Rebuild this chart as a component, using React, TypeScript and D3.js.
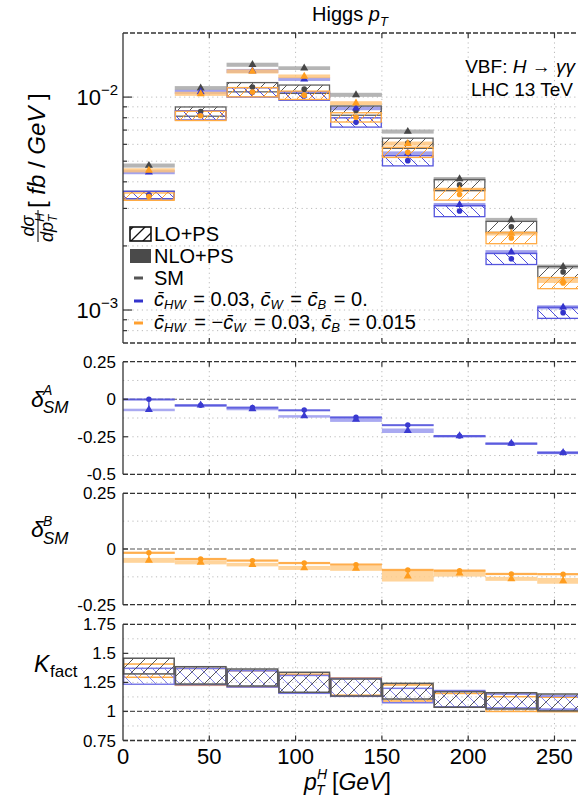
import React from 'react';
import * as d3 from 'd3';

const binEdges = [0, 30, 60, 90, 120, 150, 180, 210, 240, 270];

// d sigma / d pT [fb/GeV]
const smLO = [0.00347, 0.00856, 0.01114, 0.0109, 0.00865, 0.00608, 0.00387, 0.00246, 0.00151];
const smNLO = [0.00477, 0.01102, 0.01419, 0.01368, 0.01025, 0.00689, 0.00413, 0.00265, 0.0016];
const hwLO = [0.00347, 0.00822, 0.01053, 0.01012, 0.00761, 0.00503, 0.00292, 0.00174, 0.000972];
const hwNLO = [0.00444, 0.01058, 0.01327, 0.01215, 0.00887, 0.00544, 0.00312, 0.00187, 0.00103];
const mixLO = [0.00341, 0.00817, 0.01056, 0.01021, 0.00804, 0.00551, 0.00349, 0.00218, 0.00134];
const mixNLO = [0.00453, 0.01036, 0.0132, 0.01252, 0.00936, 0.00605, 0.00368, 0.00229, 0.00137];
const loErr = [0.04, 0.05, 0.05, 0.045, 0.05, 0.055, 0.06, 0.06, 0.06];
const nloErr = [0.022, 0.022, 0.022, 0.02, 0.022, 0.022, 0.02, 0.022, 0.022];

// delta_SM panels
const dAlo = [0, -0.04, -0.055, -0.072, -0.12, -0.172, -0.245, -0.294, -0.356];
const dAnlo = [-0.07, -0.04, -0.065, -0.112, -0.135, -0.21, -0.245, -0.294, -0.356];
const dAloErr = [0.005, 0.005, 0.006, 0.005, 0.006, 0.006, 0.006, 0.005, 0.006];
const dAnloErr = [0.007, 0.008, 0.008, 0.006, 0.016, 0.015, 0.007, 0.006, 0.01];
const dBlo = [-0.017, -0.045, -0.052, -0.063, -0.07, -0.094, -0.097, -0.112, -0.113];
const dBnlo = [-0.051, -0.06, -0.07, -0.085, -0.087, -0.122, -0.109, -0.134, -0.143];
const dBloErr = [0.005, 0.005, 0.005, 0.005, 0.005, 0.005, 0.005, 0.005, 0.005];
const dBnloErr = [0.011, 0.009, 0.008, 0.009, 0.011, 0.024, 0.015, 0.009, 0.013];

// K factor bands
const kSmLo = [1.323, 1.236, 1.219, 1.165, 1.133, 1.107, 1.036, 1.021, 1.005];
const kSmHi = [1.458, 1.385, 1.365, 1.337, 1.279, 1.242, 1.17, 1.161, 1.15];
const kHwLo = [1.234, 1.23, 1.21, 1.156, 1.13, 1.075, 1.04, 1.03, 1.02];
const kHwHi = [1.371, 1.37, 1.35, 1.31, 1.285, 1.199, 1.18, 1.15, 1.133];
const kMixLo = [1.294, 1.225, 1.21, 1.16, 1.14, 1.09, 1.036, 1.0, 0.998];
const kMixHi = [1.408, 1.37, 1.35, 1.32, 1.29, 1.228, 1.155, 1.127, 1.122];

const xTicks = [0, 50, 100, 150, 200, 250];
const mainGrid = [8e-4, 9e-4, 1e-3, 2e-3, 3e-3, 4e-3, 5e-3, 6e-3, 7e-3, 8e-3, 9e-3, 1e-2];
const mainMajor = [1e-3, 1e-2];
const aTicks = [0.25, 0, -0.25, -0.5];
const aGrid = [0.125, -0.125, -0.25, -0.375];
const bTicks = [0.25, 0, -0.25];
const bGrid = [0.125, -0.125];
const kTicks = [1.75, 1.5, 1.25, 1, 0.75];
const kGrid = [1.625, 1.5, 1.375, 1.25, 1.125, 0.875];

const FONT = "'Liberation Sans', Arial, Helvetica, sans-serif";
const L = 123, R = 589;
const x = d3.scaleLinear().domain([0, 270]).range([L, R]);
const yMain = d3.scaleLog().domain([7e-4, 2e-2]).range([343, 33]);
const yA = d3.scaleLinear().domain([-0.5, 0.25]).range([474.3, 361.7]);
const yB = d3.scaleLinear().domain([-0.25, 0.25]).range([604.7, 493.3]);
const yK = d3.scaleLinear().domain([0.75, 1.75]).range([740.5, 624.3]);

const bins = binEdges.slice(0, -1).map((e, i) => ({ i, x0: x(e), x1: x(binEdges[i + 1]), xc: x((e + binEdges[i + 1]) / 2) }));
const tri = d3.symbol(d3.symbolTriangle).size(28)();

const sm = { lo: smLO, nlo: smNLO, kLo: kSmLo, kHi: kSmHi, line: '#606060', band: '#a3a3a3', hatch: 'url(#hSM)', kHatch: 'url(#hSM)', kLine: '#5a5a5a', mark: '#474747' };
const hw = { lo: hwLO, nlo: hwNLO, kLo: kHwLo, kHi: kHwHi, line: '#5555dd', band: '#8c8ce8', hatch: 'url(#hHW)', kHatch: 'url(#hHWk)', kLine: '#7a7ae6', mark: '#3333cc' };
const mix = { lo: mixLO, nlo: mixNLO, kLo: kMixLo, kHi: kMixHi, line: '#ffab45', band: '#ffc276', hatch: 'url(#hMIX)', kHatch: 'url(#hMIX)', kLine: '#ffab45', mark: '#ff9d1f' };
const series = [sm, hw, mix];
const kOrder = [mix, hw, sm];

const Frame = ({ y, grid, zero }: { y: any; grid: number[]; zero?: number }) => {
  const [b, t] = y.range();
  return (
    <g>
      {xTicks.slice(1).map(v => (
        <line key={'v' + v} x1={x(v)} x2={x(v)} y1={t} y2={b} stroke="#bbb" strokeDasharray="1.2,3.5" />
      ))}
      {grid.map(v => (
        <line key={'h' + v} x1={L} x2={R} y1={y(v)} y2={y(v)} stroke="#bbb" strokeDasharray="1.2,3.5" />
      ))}
      {zero !== undefined && (
        <line x1={L} x2={R} y1={y(zero)} y2={y(zero)} stroke="#555" strokeWidth={1.2} strokeDasharray="5,2" />
      )}
    </g>
  );
};

const Border = ({ y, ticks }: { y: any; ticks: number[] }) => {
  const [b, t] = y.range();
  return (
    <g>
      <line x1={L} x2={R} y1={t} y2={t} stroke="#333" strokeWidth={1.3} strokeDasharray="5,2" />
      <line x1={L} x2={R} y1={b} y2={b} stroke="#333" strokeWidth={1.3} strokeDasharray="5,2" />
      <line x1={L} x2={L} y1={t} y2={b} stroke="#333" strokeWidth={1.3} />
      {xTicks.slice(1).map(v => (
        <g key={v}>
          <line x1={x(v)} x2={x(v)} y1={t} y2={t + 5} stroke="#333" strokeWidth={1.2} />
          <line x1={x(v)} x2={x(v)} y1={b} y2={b - 5} stroke="#333" strokeWidth={1.2} />
        </g>
      ))}
      {ticks.map(v => (
        <line key={'t' + v} x1={L} x2={L + 5} y1={y(v)} y2={y(v)} stroke="#333" strokeWidth={1.2} />
      ))}
    </g>
  );
};

const RatioMarks = ({ y, lo, nlo, loE, nloE, cLo, cNlo, mark }: any) => (
  <g>
    {bins.map(({ i, x0, x1, xc }) => {
      const n0 = y(nlo[i] + nloE[i]), n1 = y(nlo[i] - nloE[i]);
      const l0 = y(lo[i] + loE[i]), l1 = y(lo[i] - loE[i]);
      return (
        <g key={i}>
          <rect x={x0} width={x1 - x0} y={n0} height={Math.max(n1 - n0, 2.5)} fill={cNlo} opacity={0.85} />
          <rect x={x0} width={x1 - x0} y={l0} height={Math.max(l1 - l0, 2)} fill={cLo} opacity={0.9} />
          <line x1={xc} x2={xc} y1={y(lo[i])} y2={y(nlo[i])} stroke={mark} strokeWidth={1.2} />
          <circle cx={xc} cy={y(lo[i])} r={2.7} fill={mark} />
          <path d={tri} transform={`translate(${xc},${y(nlo[i])})`} fill={mark} />
        </g>
      );
    })}
  </g>
);

const hatchPat = (id: string, color: string, back: boolean, w = 1) => (
  <pattern id={id} patternUnits="userSpaceOnUse" width={12} height={12}>
    <path
      d={back ? 'M0,0 L12,12 M-3,9 L3,15 M9,-3 L15,3' : 'M0,12 L12,0 M-3,3 L3,-3 M9,15 L15,9'}
      stroke={color}
      strokeWidth={w}
    />
  </pattern>
);

const Cbar = ({ sub }: { sub: string }) => (
  <>
    <tspan fontStyle="italic">c̄</tspan>
    <tspan fontStyle="italic" fontSize={13} dy={3}>{sub}</tspan>
  </>
);

export default function App() {
  return (
    <svg width={578} height={797} style={{ position: 'absolute', left: 0, top: 0, background: '#fff' }} fontFamily={FONT}>
      <defs>
        {hatchPat('hSM', '#555', false)}
        {hatchPat('hHW', '#5050dd', true)}
        {hatchPat('hHWk', '#7c7ce4', true, 0.9)}
        {hatchPat('hMIX', '#ffa030', false)}
        {hatchPat('hLeg', '#111', false, 1.3)}
      </defs>

      {/* title */}
      <text x={350} y={21} fontSize={20} textAnchor="middle">
        Higgs <tspan fontStyle="italic">p</tspan>
        <tspan fontStyle="italic" fontSize={13} dy={5}>T</tspan>
      </text>

      {/* main panel */}
      <Frame y={yMain} grid={mainGrid} />
      {series.map((s, k) => (
        <g key={'n' + k}>
          {bins.map(({ i, x0, x1 }) => {
            const t = yMain(s.nlo[i] * (1 + nloErr[i]));
            const b = yMain(s.nlo[i] * (1 - nloErr[i]));
            return <rect key={i} x={x0} width={x1 - x0} y={t} height={b - t} fill={s.band} opacity={0.8} />;
          })}
        </g>
      ))}
      {series.map((s, k) => (
        <g key={'l' + k}>
          {bins.map(({ i, x0, x1 }) => {
            const t = yMain(s.lo[i] * (1 + loErr[i]));
            const b = yMain(s.lo[i] * (1 - loErr[i]));
            return (
              <rect key={i} x={x0 + 0.6} width={x1 - x0 - 1.2} y={t} height={b - t} fill={s.hatch} stroke={s.line} strokeWidth={1.3} />
            );
          })}
        </g>
      ))}
      {series.map((s, k) => (
        <g key={'m' + k}>
          {bins.map(({ i, xc }) => (
            <g key={i}>
              <circle cx={xc} cy={yMain(s.lo[i])} r={2.8} fill={s.mark} />
              <path d={tri} transform={`translate(${xc},${yMain(s.nlo[i])})`} fill={s.mark} />
            </g>
          ))}
        </g>
      ))}
      <Border y={yMain} ticks={[]} />
      {mainGrid.map(v => (
        <line key={v} x1={L} x2={L + (mainMajor.includes(v) ? 9 : 4)} y1={yMain(v)} y2={yMain(v)} stroke="#333" strokeWidth={1.2} />
      ))}
      {mainMajor.map(v => (
        <text key={v} x={118} y={yMain(v) + 8} fontSize={22} textAnchor="end">
          10<tspan fontSize={15} dy={-10}>{'\u2212' + Math.round(-Math.log10(v))}</tspan>
        </text>
      ))}
      <text x={575} y={73} fontSize={19} textAnchor="end">
        VBF: <tspan fontStyle="italic">H</tspan> {'\u2192'} <tspan fontStyle="italic">γγ</tspan>
      </text>
      <text x={573} y={96} fontSize={19} textAnchor="end">LHC 13 TeV</text>

      {/* y label */}
      <g transform="translate(45,0) rotate(-90)" fontStyle="italic">
        <text x={-226} y={-11} fontSize={18} textAnchor="middle">dσ</text>
        <line x1={-242} x2={-210} y1={-7} y2={-7} stroke="#000" strokeWidth={1} />
        <text x={-242} y={8} fontSize={18}>
          dp<tspan fontSize={12} dy={4}>T</tspan><tspan fontSize={12} dx={-7} dy={-13}>H</tspan>
        </text>
        <text x={-208} y={0} fontSize={24}>
          <tspan fontStyle="normal">[</tspan> fb <tspan fontStyle="normal">/</tspan> GeV <tspan fontStyle="normal">]</tspan>
        </text>
      </g>

      {/* legend */}
      <rect x={130} y={227} width={21} height={14} fill="url(#hLeg)" stroke="#111" strokeWidth={1.6} />
      <text x={154} y={241} fontSize={20}>LO+PS</text>
      <rect x={130} y={249} width={21} height={14} fill="#4a4a4a" />
      <text x={154} y={263} fontSize={20}>NLO+PS</text>
      <line x1={134} x2={143} y1={278} y2={278} stroke="#555" strokeWidth={3} />
      <text x={154} y={285} fontSize={20}>SM</text>
      <line x1={134} x2={143} y1={301} y2={301} stroke="#3333cc" strokeWidth={3} />
      <text x={154} y={306} fontSize={20}>
        <Cbar sub="HW" />
        <tspan dy={-3} dx={2}> = 0.03, </tspan>
        <Cbar sub="W" />
        <tspan dy={-3} dx={2}> = </tspan>
        <Cbar sub="B" />
        <tspan dy={-3} dx={2}> = 0.</tspan>
      </text>
      <line x1={134} x2={143} y1={323} y2={323} stroke="#ffa030" strokeWidth={3} />
      <text x={154} y={329} fontSize={20}>
        <Cbar sub="HW" />
        <tspan dy={-3} dx={3}> = {'\u2212'}</tspan>
        <Cbar sub="W" />
        <tspan dy={-3} dx={3}> = 0.03, </tspan>
        <Cbar sub="B" />
        <tspan dy={-3} dx={3}> = 0.015</tspan>
      </text>

      {/* delta A */}
      <Frame y={yA} grid={aGrid} zero={0} />
      <RatioMarks y={yA} lo={dAlo} nlo={dAnlo} loE={dAloErr} nloE={dAnloErr} cLo="#5252dc" cNlo="#9a9aee" mark="#3a3ad0" />
      <Border y={yA} ticks={aTicks} />
      {aTicks.map(v => (
        <text key={v} x={116} y={yA(v) + 6} fontSize={17} textAnchor="end">{String(v)}</text>
      ))}
      <text x={31} y={407} fontSize={23} fontStyle="italic">δ</text>
      <text x={43} y={395} fontSize={14} fontStyle="italic">A</text>
      <text x={43} y={413} fontSize={17} fontStyle="italic">SM</text>

      {/* delta B */}
      <Frame y={yB} grid={bGrid} zero={0} />
      <RatioMarks y={yB} lo={dBlo} nlo={dBnlo} loE={dBloErr} nloE={dBnloErr} cLo="#ffa53a" cNlo="#ffcd8a" mark="#ff9d1f" />
      <Border y={yB} ticks={bTicks} />
      {bTicks.map(v => (
        <text key={v} x={116} y={yB(v) + 6} fontSize={17} textAnchor="end">{String(v)}</text>
      ))}
      <text x={31} y={537} fontSize={23} fontStyle="italic">δ</text>
      <text x={43} y={526} fontSize={14} fontStyle="italic">B</text>
      <text x={43} y={544} fontSize={17} fontStyle="italic">SM</text>

      {/* K factor */}
      <Frame y={yK} grid={kGrid} zero={1} />
      {kOrder.map((s, k) => (
        <g key={'k' + k}>
          {bins.map(({ i, x0, x1 }) => {
            const t = yK(s.kHi[i]);
            const b = yK(s.kLo[i]);
            return (
              <rect key={i} x={x0 + 0.6} width={x1 - x0 - 1.2} y={t} height={b - t} fill={s.kHatch} stroke={s.kLine} strokeWidth={1.5} />
            );
          })}
        </g>
      ))}
      <Border y={yK} ticks={kTicks} />
      {kTicks.map(v => (
        <text key={v} x={116} y={yK(v) + 6} fontSize={17} textAnchor="end">{String(v)}</text>
      ))}
      <text x={34} y={672} fontSize={23} fontStyle="italic">K</text>
      <text x={50} y={677} fontSize={17}>fact</text>

      {/* x axis */}
      {xTicks.map(v => (
        <text key={v} x={x(v)} y={764} fontSize={22} textAnchor="middle">{v}</text>
      ))}
      <text x={304} y={790} fontSize={23} fontStyle="italic">p</text>
      <text x={316} y={795} fontSize={14} fontStyle="italic">T</text>
      <text x={317} y={779} fontSize={14} fontStyle="italic">H</text>
      <text x={332} y={790} fontSize={23} fontStyle="italic">
        <tspan fontStyle="normal">[</tspan>GeV<tspan fontStyle="normal">]</tspan>
      </text>
    </svg>
  );
}
